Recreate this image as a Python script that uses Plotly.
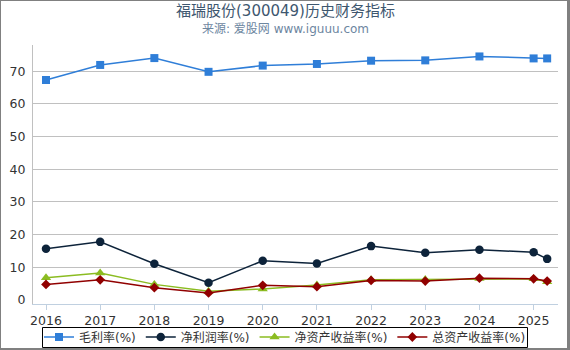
import plotly.graph_objects as go

years = [2016, 2017, 2018, 2019, 2020, 2021, 2022, 2023, 2024, 2025, 2025.25]
gross_margin = [67.3, 71.9, 74.0, 69.8, 71.7, 72.2, 73.2, 73.3, 74.5, 73.9, 73.9]
net_margin = [15.7, 17.8, 11.1, 5.3, 12.0, 11.2, 16.5, 14.5, 15.4, 14.6, 12.6]
roe = [6.8, 8.3, 4.8, 2.7, 3.4, 4.6, 6.2, 6.3, 6.6, 6.5, 5.6]
roa = [4.8, 6.2, 3.8, 2.2, 4.5, 4.1, 6.0, 5.8, 6.7, 6.5, 5.8]

series_names = ["毛利率(%)", "净利润率(%)", "净资产收益率(%)", "总资产收益率(%)"]
xtick_vals = [2016, 2017, 2018, 2019, 2020, 2021, 2022, 2023, 2024, 2025]
ytick_vals = [0, 10, 20, 30, 40, 50, 60, 70]

FONT = "DejaVu Sans, Noto Sans CJK SC, sans-serif"

fig = go.Figure()
specs = [
    (gross_margin, "#2f7ed8", "square", 8),
    (net_margin, "#0d233a", "circle", 8.5),
    (roe, "#8bbc21", "triangle-up", 9),
    (roa, "#910000", "diamond", 7.5),
]
for (vals, color, sym, size), name in zip(specs, series_names):
    fig.add_trace(go.Scatter(
        x=years, y=vals, name=name, mode="lines+markers",
        line=dict(color=color, width=1.5),
        marker=dict(color=color, symbol=sym, size=size, line=dict(width=0)),
    ))

# invisible trace to carry gridlines on an overlay axis
fig.add_trace(go.Scatter(x=[years[0]], y=[0], yaxis="y2", showlegend=False,
                         mode="markers", marker=dict(opacity=0), hoverinfo="skip"))

L, R, T, B = 33, 12, 45, 46
W, H = 570, 350
pw, ph = W - L - R, H - T - B

def px(xp):
    return (xp - L) / pw

def py(yp):
    return (H - B - yp) / ph

yr = [-1.2, 78.0]
fig.update_layout(
    width=W, height=H,
    margin=dict(l=L, r=R, t=T, b=B, autoexpand=False),
    paper_bgcolor="white", plot_bgcolor="white",
    font=dict(family=FONT, size=12, color="#333333"),
    showlegend=True,
    legend=dict(
        orientation="h", x=px(285), xanchor="center", y=py(322.5), yanchor="top",
        borderwidth=0, bgcolor="rgba(0,0,0,0)",
        font=dict(size=12, color="#333333"), itemwidth=30,
        tracegroupgap=0,
    ),
    xaxis=dict(
        range=[2015.76, 2025.45], tickvals=xtick_vals, ticktext=[str(v) for v in xtick_vals],
        showgrid=False, zeroline=False, showline=True, linecolor="#c0d0e0", linewidth=1,
        ticks="outside", ticklen=5, tickcolor="#c0d0e0",
        tickfont=dict(size=12.5, color="#333333"),
    ),
    yaxis=dict(
        range=yr, tickvals=ytick_vals, showgrid=False, zeroline=False,
        showline=True, linecolor="#c0c0c0", linewidth=1,
        tickfont=dict(size=12.5, color="#333333"), ticks="", ticklabelstandoff=4,
    ),
    yaxis2=dict(
        range=yr, overlaying="y", side="left", tickvals=ytick_vals[1:],
        showgrid=True, gridcolor="#c0c0c0", gridwidth=1, showticklabels=False,
        zeroline=False, showline=False,
    ),
    annotations=[
        dict(text="福瑞股份(300049)历史财务指标", xref="paper", yref="paper",
             x=px(285), y=py(11), xanchor="center", yanchor="middle", showarrow=False,
             font=dict(size=15, color="#3e576f", family=FONT)),
        dict(text="来源: 爱股网 www.iguuu.com", xref="paper", yref="paper",
             x=px(285), y=py(28.5), xanchor="center", yanchor="middle", showarrow=False,
             font=dict(size=12, color="#6d869f", family=FONT)),
    ],
    shapes=[
        dict(type="rect", xref="paper", yref="paper", x0=px(42.5), x1=px(527.5), y0=py(327.5), y1=py(347.5),
             line=dict(color="#000000", width=1), fillcolor="white", layer="below"),
        dict(type="line", xref="paper", yref="paper", x0=px(0.5), x1=px(0.5), y0=py(0), y1=py(350),
             line=dict(color="#808080", width=1)),
        dict(type="line", xref="paper", yref="paper", x0=px(0), x1=px(570), y0=py(0.5), y1=py(0.5),
             line=dict(color="#808080", width=1)),
        dict(type="line", xref="paper", yref="paper", x0=px(568.5), x1=px(568.5), y0=py(0), y1=py(350),
             line=dict(color="#808080", width=3)),
        dict(type="line", xref="paper", yref="paper", x0=px(0), x1=px(570), y0=py(349), y1=py(349),
             line=dict(color="#808080", width=2)),
    ],
)
fig.update_layout(hovermode=False)

fig.write_html("out.html")
